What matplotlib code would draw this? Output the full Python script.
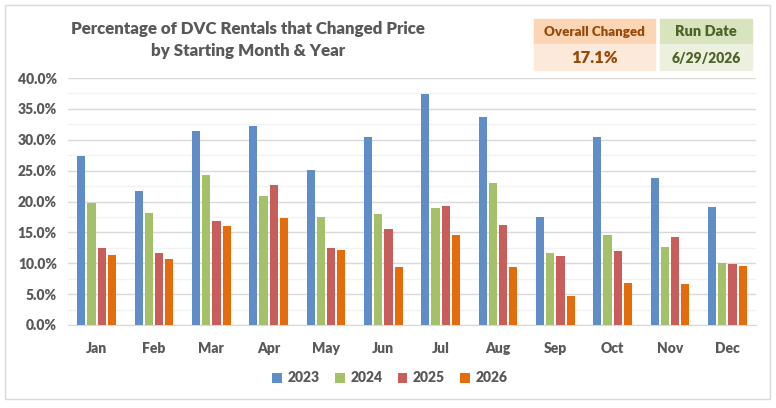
import numpy as np
import matplotlib.pyplot as plt
from matplotlib.patches import Rectangle
from matplotlib.ticker import MultipleLocator, FuncFormatter

plt.rcParams['font.family'] = ['Lato', 'DejaVu Sans']

# Data (percent of rentals that changed price)
months = ['Jan', 'Feb', 'Mar', 'Apr', 'May', 'Jun', 'Jul', 'Aug', 'Sep', 'Oct', 'Nov', 'Dec']
years = ['2023', '2024', '2025', '2026']
pct_2023 = [27.4, 21.7, 31.4, 32.2, 25.1, 30.5, 37.4, 33.7, 17.5, 30.5, 23.8, 19.1]
pct_2024 = [19.8, 18.1, 24.3, 20.9, 17.5, 18.0, 19.0, 23.0, 11.7, 14.6, 12.6, 10.1]
pct_2025 = [12.5, 11.7, 16.9, 22.7, 12.5, 15.6, 19.3, 16.2, 11.2, 12.0, 14.3, 9.9]
pct_2026 = [11.3, 10.7, 16.0, 17.4, 12.2, 9.4, 14.6, 9.4, 4.7, 6.8, 6.6, 9.6]
overall_changed = '17.1%'
run_date = '6/29/2026'

series = [pct_2023, pct_2024, pct_2025, pct_2026]
colors = ['#5F8DC7', '#A4C068', '#C85E5C', '#E46C0A']
text_gray = '#595959'

fig = plt.figure(figsize=(7.76, 4.08), dpi=100)
ax = fig.add_axes([68 / 776, 1 - 325 / 408, 688 / 776, 247 / 408])

x = np.arange(len(months))
width = 0.14
step = 0.18
for i, (vals, col, yr) in enumerate(zip(series, colors, years)):
    ax.bar(x + (i - 1.5) * step, vals, width=width, color=col, label=yr, zorder=3)

ax.set_xlim(-0.5, len(months) - 0.5)
ax.set_ylim(0, 40)
ax.yaxis.set_major_locator(MultipleLocator(5))
ax.yaxis.set_minor_locator(MultipleLocator(2.5))
ax.yaxis.set_major_formatter(FuncFormatter(lambda v, p: f'{v:.1f}%'))
ax.grid(axis='y', which='major', color='#D9D9D9', linewidth=1, zorder=0)
ax.grid(axis='y', which='minor', color='#F2F2F2', linewidth=1, zorder=0)
ax.set_xticks(x)
ax.set_xticklabels(months)
for s in ['top', 'right', 'left']:
    ax.spines[s].set_visible(False)
ax.spines['bottom'].set_color('#D9D9D9')
ax.tick_params(axis='both', which='both', length=0, colors=text_gray, labelsize=10)
ax.tick_params(axis='x', pad=12)
ax.tick_params(axis='y', pad=8)
for lab in ax.get_xticklabels() + ax.get_yticklabels():
    lab.set_fontweight('heavy')

leg = ax.legend(loc='center', bbox_to_anchor=(390 / 776, 1 - 378 / 408),
                bbox_transform=fig.transFigure, ncol=4, frameon=False,
                handlelength=0.7, handleheight=0.7, handletextpad=0.4,
                columnspacing=1.1, prop={'weight': 'heavy', 'size': 10})
for t in leg.get_texts():
    t.set_color(text_gray)

# title
fig.text(248 / 776, 1 - 40 / 408,
         'Percentage of DVC Rentals that Changed Price\nby Starting Month & Year',
         ha='center', va='center', color=text_gray, fontsize=12.2,
         fontweight='heavy', linespacing=1.45)

# info boxes
def info_box(x0, x1, head, value, top_col, bot_col, txt_col, head_size, val_size):
    y_top, y_mid, y_bot = 19, 44, 70
    fig.patches.append(Rectangle((x0 / 776, 1 - y_mid / 408), (x1 - x0) / 776,
                                 (y_mid - y_top) / 408, transform=fig.transFigure,
                                 color=top_col, zorder=1))
    fig.patches.append(Rectangle((x0 / 776, 1 - y_bot / 408), (x1 - x0) / 776,
                                 (y_bot - y_mid) / 408, transform=fig.transFigure,
                                 color=bot_col, zorder=1))
    xc = (x0 + x1) / 2 / 776
    fig.text(xc, 1 - 32 / 408, head, ha='center', va='center', color=txt_col,
             fontsize=head_size, fontweight='heavy')
    fig.text(xc, 1 - 58 / 408, value, ha='center', va='center', color=txt_col,
             fontsize=val_size, fontweight='heavy')

info_box(534, 655, 'Overall Changed', overall_changed, '#FCD5B5', '#FDE9D9', '#984807', 9.6, 12)
info_box(660, 752, 'Run Date', run_date, '#D7E4BD', '#EBF1DE', '#4F6228', 10.5, 10)

# outer chart border
fig.patches.append(Rectangle((5 / 776, 1 - 399 / 408), 765 / 776, 394 / 408,
                             transform=fig.transFigure, fill=False,
                             edgecolor='#D9D9D9', linewidth=1))

fig.savefig('out.png', dpi=100)
